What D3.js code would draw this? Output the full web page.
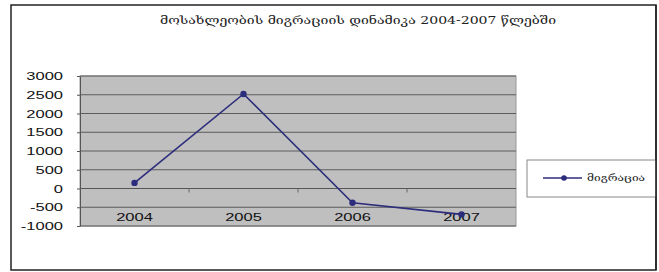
<!DOCTYPE html>
<html>
<head>
<meta charset="utf-8">
<script src="https://cdn.jsdelivr.net/npm/d3@7"></script>
<style>
  body { margin: 0; background: #fff; }
  text { font-family: "Liberation Sans", Arial, sans-serif; }
</style>
</head>
<body>
<svg id="chart" width="659" height="272"></svg>
<script>
// chart values
var years = ["2004", "2005", "2006", "2007"];
var migration = [150, 2520, -380, -690];
var yTicks = [-1000, -500, 0, 500, 1000, 1500, 2000, 2500, 3000];
var title = "მოსახლეობის მიგრაციის დინამიკა 2004-2007 წლებში";
var seriesName = "მიგრაცია";

var data = years.map((y, i) => ({year: y, value: migration[i]}));

var plot = {left: 80, right: 516, top: 76, bottom: 226};
var stretch = 1.5; // the picture is stretched sideways
var lineColor = "#2c2c7c";

var svg = d3.select("#chart");

// outer frame
svg.append("rect")
    .attr("x", 11).attr("y", 5)
    .attr("width", 645).attr("height", 265)
    .attr("fill", "white")
    .attr("stroke", "#222").attr("stroke-width", 1.5);

// title
svg.append("text")
    .attr("x", 160).attr("y", 24)
    .attr("textLength", 396)
    .attr("lengthAdjust", "spacingAndGlyphs")
    .style("font-family", "'DejaVu Serif', serif")
    .style("font-size", "11px")
    .attr("fill", "#222")
    .text(title);

var x = d3.scaleBand()
    .domain(years)
    .range([plot.left, plot.right]);

var y = d3.scaleLinear()
    .domain([-1000, 3000])
    .range([plot.bottom, plot.top]);

// plot background
svg.append("rect")
    .attr("x", plot.left).attr("y", plot.top)
    .attr("width", plot.right - plot.left).attr("height", plot.bottom - plot.top)
    .attr("fill", "#bfbfbf")
    .attr("stroke", "#9a9a9a");

// gridlines
svg.append("g")
    .selectAll("line")
    .data(yTicks)
    .enter().append("line")
    .attr("x1", plot.left).attr("x2", plot.right)
    .attr("y1", d => y(d)).attr("y2", d => y(d))
    .attr("stroke", "#5c5c5c").attr("stroke-width", 1);

// y axis
var yAxis = svg.append("g")
    .attr("transform", `translate(${plot.left},0)`)
    .call(d3.axisLeft(y).tickValues(yTicks).tickFormat(d => String(d))
        .tickSize(3).tickSizeOuter(0));
yAxis.select(".domain").attr("stroke", "#555");
yAxis.selectAll(".tick line").attr("stroke", "#555");
yAxis.selectAll("text")
    .attr("x", -17 / stretch)
    .attr("transform", `scale(${stretch},1)`)
    .style("font-size", "11px")
    .attr("fill", "#111");

// x axis on the zero line, ticks between categories
var xAxis = svg.append("g")
    .attr("transform", `translate(0,${y(0)})`);
xAxis.append("line")
    .attr("x1", plot.left).attr("x2", plot.right)
    .attr("stroke", "#555");
xAxis.selectAll(".tick")
    .data(years.slice(1))
    .enter().append("line")
    .attr("x1", d => x(d)).attr("x2", d => x(d))
    .attr("y1", 0).attr("y2", 4)
    .attr("stroke", "#666");

// category labels low
svg.append("g")
    .selectAll("text")
    .data(years)
    .enter().append("text")
    .attr("x", d => (x(d) + x.bandwidth() / 2) / stretch)
    .attr("y", 221)
    .attr("transform", `scale(${stretch},1)`)
    .attr("text-anchor", "middle")
    .style("font-size", "11px")
    .attr("fill", "#111")
    .text(d => d);

// series line
var line = d3.line()
    .x(d => x(d.year) + x.bandwidth() / 2)
    .y(d => y(d.value));

svg.append("path")
    .datum(data)
    .attr("d", line)
    .attr("fill", "none")
    .attr("stroke", lineColor)
    .attr("stroke-width", 1.6);

svg.append("g")
    .selectAll("circle")
    .data(data)
    .enter().append("circle")
    .attr("cx", d => x(d.year) + x.bandwidth() / 2)
    .attr("cy", d => y(d.value))
    .attr("r", 3.2)
    .attr("fill", lineColor);

// legend
var legend = svg.append("g");
legend.append("rect")
    .attr("x", 527).attr("y", 160)
    .attr("width", 129).attr("height", 37)
    .attr("fill", "white")
    .attr("stroke", "#888");
legend.append("line")
    .attr("x1", 543).attr("x2", 582)
    .attr("y1", 178).attr("y2", 178)
    .attr("stroke", lineColor).attr("stroke-width", 1.6);
legend.append("circle")
    .attr("cx", 564).attr("cy", 178).attr("r", 2.8)
    .attr("fill", lineColor);
legend.append("text")
    .attr("x", 587).attr("y", 181)
    .attr("textLength", 58)
    .attr("lengthAdjust", "spacingAndGlyphs")
    .style("font-family", "'DejaVu Serif', serif")
    .style("font-size", "9px")
    .attr("fill", "#222")
    .text(seriesName);

// frame border on top again so legend is clipped by it
svg.append("line")
    .attr("x1", 656).attr("x2", 656).attr("y1", 5).attr("y2", 270)
    .attr("stroke", "#222").attr("stroke-width", 1.5);
</script>
</body>
</html>
